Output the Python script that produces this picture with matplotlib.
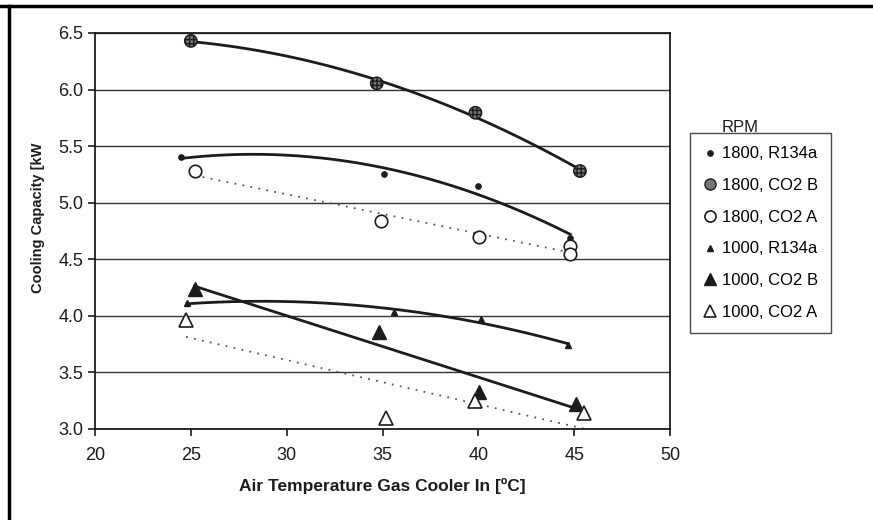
import numpy as np
import matplotlib
matplotlib.use('Agg')
import matplotlib.pyplot as plt
from matplotlib.lines import Line2D

plt.rcParams['font.family'] = ['Liberation Sans', 'DejaVu Sans']

# Werte
x_1800_r134a = [24.5, 35.1, 40.0, 44.8]
y_1800_r134a = [5.40, 5.25, 5.15, 4.69]

x_1800_co2b = [25.0, 34.7, 39.85, 45.3]
y_1800_co2b = [6.43, 6.055, 5.795, 5.28]

x_1800_co2a = [25.2, 34.9, 40.05, 44.8, 44.8]
y_1800_co2a = [5.28, 4.84, 4.70, 4.62, 4.55]

x_1000_r134a = [24.8, 35.6, 40.15, 44.7]
y_1000_r134a = [4.11, 4.035, 3.97, 3.74]

x_1000_co2b = [25.2, 34.8, 40.05, 45.1]
y_1000_co2b = [4.235, 3.854, 3.33, 3.22]

x_1000_co2a = [24.75, 35.2, 39.8, 45.5]
y_1000_co2a = [3.96, 3.10, 3.25, 3.14]

x_ticks = [20, 25, 30, 35, 40, 45, 50]
y_ticks = [3.0, 3.5, 4.0, 4.5, 5.0, 5.5, 6.0, 6.5]

ink = '#1c1c1c'


def trend(ax, xs, ys, deg, **kw):
    c = np.polyfit(xs, ys, deg)
    xx = np.linspace(min(xs), max(xs), 200)
    ax.plot(xx, np.polyval(c, xx), **kw)


fig = plt.figure(figsize=(8.73, 5.2), dpi=100)
ax = fig.add_axes([95 / 873, 1 - 429 / 520, 575 / 873, 396 / 520])

for yv in y_ticks:
    ax.axhline(yv, color='#333333', lw=1.0, zorder=1)

solid = dict(color=ink, lw=2.0, zorder=2)
dotted = dict(color='#555555', lw=1.3, ls=(0, (1, 3.5)), zorder=2)

trend(ax, x_1800_co2b, y_1800_co2b, 2, **solid)
trend(ax, x_1800_r134a, y_1800_r134a, 2, **solid)
trend(ax, x_1800_co2a, y_1800_co2a, 1, **dotted)
trend(ax, x_1000_r134a, y_1000_r134a, 2, **solid)
trend(ax, x_1000_co2b, y_1000_co2b, 1, **solid)
trend(ax, x_1000_co2a, y_1000_co2a, 1, **dotted)

ax.plot(x_1800_r134a, y_1800_r134a, 'o', ms=3.8, mfc=ink, mec=ink, ls='none',
        zorder=3)
ax.scatter(x_1800_co2b, y_1800_co2b, s=80, marker='o', facecolor='#777777',
           edgecolor=ink, hatch='++++', linewidth=1.0, zorder=3)
ax.plot(x_1800_co2a, y_1800_co2a, 'o', ms=9, mfc='white', mec=ink, mew=1.2,
        ls='none', zorder=3)
ax.plot(x_1000_r134a, y_1000_r134a, '^', ms=5, mfc=ink, mec=ink, ls='none',
        zorder=3)
ax.plot(x_1000_co2b, y_1000_co2b, '^', ms=10, mfc=ink, mec=ink, ls='none',
        zorder=3)
ax.plot(x_1000_co2a, y_1000_co2a, '^', ms=10, mfc='white', mec=ink, mew=1.2,
        ls='none', zorder=3)

ax.set_xlim(20, 50)
ax.set_ylim(3.0, 6.5)
ax.set_xticks(x_ticks)
ax.set_yticks(y_ticks)
ax.set_yticklabels([f'{v:.1f}' for v in y_ticks])
ax.tick_params(axis='both', labelsize=13, colors=ink, direction='out',
               length=5, width=1.2)
ax.tick_params(axis='x', pad=8)
for sp in ax.spines.values():
    sp.set_color(ink)
    sp.set_linewidth(1.3)

ax.set_xlabel('Air Temperature Gas Cooler In [ºC]', fontsize=12.5,
              fontweight='bold', color=ink, labelpad=10)
ax.set_ylabel('Cooling Capacity [kW', fontsize=10.5, fontweight='bold',
              color=ink)
ax.yaxis.set_label_coords(-0.087, 0.533)

# Legende
handles = [
    Line2D([], [], marker='o', ms=3.8, mfc=ink, mec=ink, ls='none'),
    Line2D([], [], marker='o', ms=8, mfc='#777777', mec=ink, ls='none'),
    Line2D([], [], marker='o', ms=8, mfc='white', mec=ink, mew=1.2, ls='none'),
    Line2D([], [], marker='^', ms=5, mfc=ink, mec=ink, ls='none'),
    Line2D([], [], marker='^', ms=9, mfc=ink, mec=ink, ls='none'),
    Line2D([], [], marker='^', ms=9, mfc='white', mec=ink, mew=1.2, ls='none'),
]
labels = ['1800, R134a', '1800, CO2 B', '1800, CO2 A',
          '1000, R134a', '1000, CO2 B', '1000, CO2 A']
leg = fig.legend(handles, labels, loc='upper left',
                 bbox_to_anchor=(690 / 873, 1 - 133 / 520), fontsize=12,
                 frameon=True, fancybox=False, edgecolor=ink, handlelength=0.8,
                 handletextpad=0.3, labelspacing=1.0, borderpad=0.8,
                 borderaxespad=0)
leg.get_frame().set_linewidth(1.0)
fig.text(722 / 873, 1 - 128 / 520, 'RPM', fontsize=12, color=ink,
         va='center')

# Rand des Scans
fig.add_artist(Line2D([0, 1], [1 - 6 / 520, 1 - 6 / 520], color='black',
                      lw=2.5, transform=fig.transFigure))
fig.add_artist(Line2D([9 / 873, 9 / 873], [0, 1 - 6 / 520], color='black',
                      lw=2.5, transform=fig.transFigure))

fig.savefig('out.png', dpi=100)
